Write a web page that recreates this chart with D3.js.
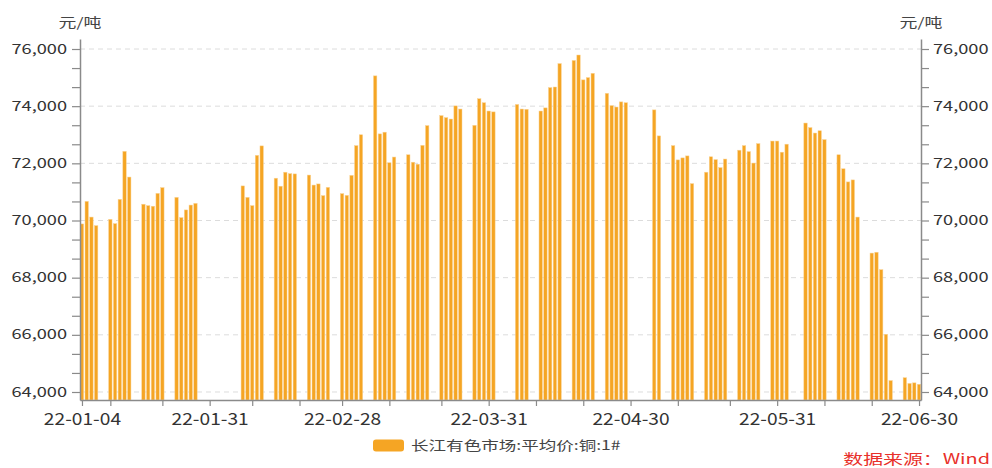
<!DOCTYPE html>
<html><head><meta charset="utf-8">
<script src="https://cdn.jsdelivr.net/npm/d3@7/dist/d3.min.js"></script>
<style>
body{margin:0;background:#fff;}
svg text{font-family:"Noto Sans CJK SC","Noto Sans",sans-serif;}
</style>
</head><body>
<svg id="chart" width="992" height="468"></svg>
<script>
// ---- data ----
const seriesName = "长江有色市场:平均价:铜:1#";
const unitLabel = "元/吨";
const sourceLabel = "数据来源：Wind";

const dates = [
  "2022-01-04","2022-01-05","2022-01-06","2022-01-07","2022-01-10","2022-01-11","2022-01-12","2022-01-13","2022-01-14",
  "2022-01-17","2022-01-18","2022-01-19","2022-01-20","2022-01-21","2022-01-24","2022-01-25","2022-01-26","2022-01-27","2022-01-28",
  "2022-02-07","2022-02-08","2022-02-09","2022-02-10","2022-02-11","2022-02-14","2022-02-15","2022-02-16","2022-02-17","2022-02-18",
  "2022-02-21","2022-02-22","2022-02-23","2022-02-24","2022-02-25","2022-02-28",
  "2022-03-01","2022-03-02","2022-03-03","2022-03-04","2022-03-07","2022-03-08","2022-03-09","2022-03-10","2022-03-11",
  "2022-03-14","2022-03-15","2022-03-16","2022-03-17","2022-03-18","2022-03-21","2022-03-22","2022-03-23","2022-03-24","2022-03-25",
  "2022-03-28","2022-03-29","2022-03-30","2022-03-31",
  "2022-04-01","2022-04-06","2022-04-07","2022-04-08","2022-04-11","2022-04-12","2022-04-13","2022-04-14","2022-04-15",
  "2022-04-18","2022-04-19","2022-04-20","2022-04-21","2022-04-22","2022-04-25","2022-04-26","2022-04-27","2022-04-28","2022-04-29",
  "2022-05-05","2022-05-06","2022-05-09","2022-05-10","2022-05-11","2022-05-12","2022-05-13","2022-05-16","2022-05-17","2022-05-18",
  "2022-05-19","2022-05-20","2022-05-23","2022-05-24","2022-05-25","2022-05-26","2022-05-27","2022-05-30","2022-05-31",
  "2022-06-01","2022-06-02","2022-06-06","2022-06-07","2022-06-08","2022-06-09","2022-06-10","2022-06-13","2022-06-14","2022-06-15",
  "2022-06-16","2022-06-17","2022-06-20","2022-06-21","2022-06-22","2022-06-23","2022-06-24","2022-06-27","2022-06-28","2022-06-29","2022-06-30"
];
const prices = [
  69880,70670,70120,69820,70040,69890,70740,72420,71520,
  70570,70520,70500,70950,71150,70810,70100,70370,70540,70600,
  71210,70810,70520,72280,72610,71480,71200,71690,71640,71630,
  71590,71240,71280,70870,71160,70940,
  70880,71580,72620,73000,75060,73030,73090,72020,72220,
  72300,72040,71970,72630,73320,73670,73600,73550,74010,73900,
  73330,74260,74120,73830,
  73800,74060,73900,73890,73830,73940,74650,74670,75490,
  75600,75790,74920,75000,75150,74450,74020,73970,74150,74120,
  73870,72960,72620,72120,72190,72260,71290,71690,72230,72130,
  71850,72150,72460,72620,72410,72010,72690,72780,72780,
  72390,72670,73410,73250,73060,73140,72830,72300,71810,71350,
  71420,70120,68860,68890,68280,66020,64400,64500,64300,64320,64270
];
const xTickDates = ["2022-01-04","2022-01-31","2022-02-28","2022-03-31","2022-04-30","2022-05-31","2022-06-30"];
const xTickLabels = ["22-01-04","22-01-31","22-02-28","22-03-31","22-04-30","22-05-31","22-06-30"];
const xMinorTickDates = ["2022-01-10","2022-01-21","2022-02-09","2022-02-19","2022-03-10","2022-03-21",
  "2022-04-10","2022-04-20","2022-05-10","2022-05-21","2022-06-10","2022-06-20"];
const yTicks = [64000,66000,68000,70000,72000,74000,76000];

// ---- chart ----
const svg = d3.select("#chart");
const parse = d3.utcParse("%Y-%m-%d");
const data = dates.map((d,i)=>({date:parse(d), value:prices[i]}));

const mLeft = 80, mRight = 921, mTop = 39, mBottom = 400;
const x = d3.scaleUtc()
  .domain([d3.utcHour.offset(parse(dates[0]), -10), d3.utcHour.offset(parse(dates[dates.length-1]), 10)])
  .range([mLeft, mRight]);
const y = d3.scaleLinear().domain([63720, 76350]).range([mBottom, mTop]);

const axisColor = "#8a8a8a";
const textColor = "#333";

function stretch(sel, sx){
  sel.each(function(){
    const t = d3.select(this);
    const x0 = +(t.attr("x")||0);
    t.attr("x", x0/sx).attr("transform", `scale(${sx},1)`);
  });
}

// minor y ticks at thirds between majors
const yMinor = [];
for (let i=0;i<yTicks.length-1;i++){
  const a=yTicks[i], b=yTicks[i+1];
  yMinor.push(a+(b-a)/3, a+2*(b-a)/3);
}
const yAll = yTicks.concat(yMinor);

// grid
svg.append("g").selectAll("line").data(yTicks).join("line")
  .attr("x1", mLeft).attr("x2", mRight)
  .attr("y1", d=>y(d)).attr("y2", d=>y(d))
  .attr("stroke", "#dcdcdc").attr("stroke-width", 1).attr("stroke-dasharray", "5,4");

// bars
const barW = 3.4;
svg.append("g").selectAll("rect").data(data).join("rect")
  .attr("x", d=>x(d.date)-barW/2)
  .attr("width", barW)
  .attr("y", d=>y(d.value))
  .attr("height", d=>mBottom - y(d.value))
  .attr("fill", "#F5A524")
  .attr("stroke", "#FAD496").attr("stroke-width", 0.5);

const fmt = d3.format(",");
// left axis
const gl = svg.append("g").attr("transform", `translate(${mLeft},0)`)
  .call(d3.axisLeft(y).tickValues(yAll).tickSize(8).tickSizeOuter(0).tickPadding(5)
    .tickFormat(d=> yTicks.includes(d) ? fmt(d) : ""));
// right axis
const gr = svg.append("g").attr("transform", `translate(${mRight},0)`)
  .call(d3.axisRight(y).tickValues(yAll).tickSize(8).tickSizeOuter(0).tickPadding(4)
    .tickFormat(d=> yTicks.includes(d) ? fmt(d) : ""));
// bottom axis
const xMajor = xTickDates.map(parse);
const xMinor = xMinorTickDates.map(parse);
const gx = svg.append("g").attr("transform", `translate(0,${mBottom})`)
  .call(d3.axisBottom(x).tickValues(xMajor.concat(xMinor)).tickSize(6).tickSizeOuter(0).tickPadding(7)
    .tickFormat(d=>{ const i = xMajor.findIndex(m=>+m===+d); return i>=0 ? xTickLabels[i] : ""; }));

[gl,gr,gx].forEach(g=>{
  g.select(".domain").attr("stroke", axisColor).attr("stroke-width", 1.5);
  g.selectAll(".tick line").attr("stroke", axisColor).attr("stroke-width", 1.2);
  g.selectAll(".tick text").attr("fill", textColor).attr("font-size", 13)
    .style("font-family", '"Noto Sans CJK SC","Noto Sans",sans-serif');
});
gx.selectAll(".tick text").attr("font-size", 17);
stretch(gl.selectAll(".tick text"), 1.4);
stretch(gr.selectAll(".tick text"), 1.4);
stretch(gx.selectAll(".tick text"), 1.13);

// unit labels
[mLeft, mRight].forEach(px=>{
  svg.append("text").attr("transform", `translate(${px},27) scale(1.38,1)`)
    .attr("text-anchor","middle").attr("font-size",13).attr("fill","#444").text(unitLabel);
});

// legend
const legend = svg.append("g");
legend.append("rect").attr("x",373).attr("y",439.5).attr("width",31).attr("height",12).attr("rx",3)
  .attr("fill","#F5A524");
legend.append("text").attr("transform","translate(411,450) scale(1.35,1)")
  .attr("font-size",13).attr("fill","#444").text(seriesName);

// source
svg.append("text").attr("transform","translate(990,464) scale(1.42,1)")
  .attr("text-anchor","end").attr("font-size",14).attr("fill","#E8302A").text(sourceLabel);
</script>
</body></html>
